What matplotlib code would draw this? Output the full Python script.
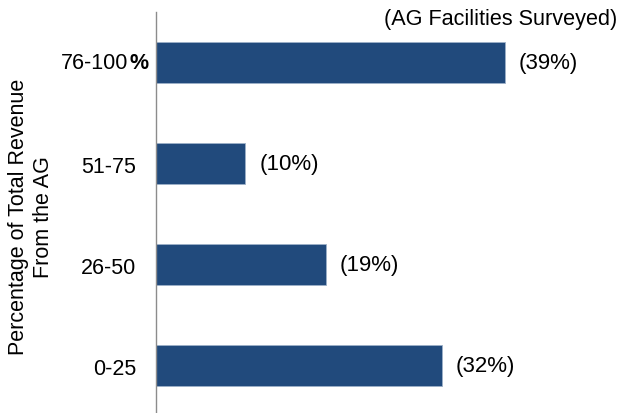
import matplotlib
matplotlib.use("Agg")
import matplotlib.pyplot as plt
from matplotlib.transforms import offset_copy

plt.rcParams['font.family'] = ['Liberation Sans', 'DejaVu Sans']

categories = ["0-25", "26-50", "51-75", "76-100"]
values = [32, 19, 10, 39]
value_labels = ["(32%)", "(19%)", "(10%)", "(39%)"]
title = "(AG Facilities Surveyed)"
ylabel = "Percentage of Total Revenue\nFrom the AG"

W, H = 620, 414
fig = plt.figure(figsize=(W / 100, H / 100), dpi=100)
left, right, top, bottom = 156, 603, 13, 414
ax = fig.add_axes([left / W, 1 - bottom / H, (right - left) / W, (bottom - top) / H])

FS = 15.5
color = "#214A7C"
ax.barh(range(len(categories)), values, height=0.4, color=color,
        edgecolor="#9DB0C8", linewidth=0.6, zorder=2)
ax.set_xlim(0, 50)
ax.set_ylim(-0.47, 3.5)

ax.set_yticks(range(len(categories)))
ax.set_yticklabels(categories[:-1] + [""], fontsize=FS)
ax.tick_params(axis='y', length=0, pad=14.4)
ax.set_xticks([])
for s in ["top", "right", "bottom"]:
    ax.spines[s].set_visible(False)
ax.spines["left"].set_color("#8C8C8C")
ax.spines["left"].set_linewidth(1.0)

# top label: number part plus a bold percent sign
ytr = ax.get_yaxis_transform()
ax.text(0, 3, categories[-1], transform=offset_copy(ytr, fig=fig, x=-28, y=0, units='dots'),
        fontsize=FS, ha='right', va='center')
ax.text(0, 3, "%", transform=offset_copy(ytr, fig=fig, x=-26, y=0, units='dots'),
        fontsize=FS, fontweight='bold', ha='left', va='center')

for i, (v, lab) in enumerate(zip(values, value_labels)):
    ax.annotate(lab, xy=(v, i), xytext=(10, 0), textcoords='offset points',
                ha='left', va='center', fontsize=16)

fig.text(617 / W, 1 - 19 / H, title, ha='right', va='center', fontsize=15.6)
fig.text(31 / W, 1 - 217 / H, ylabel, ha='center', va='center', rotation=90,
         fontsize=FS, multialignment='center', linespacing=1.25)

fig.savefig("out.png", dpi=100)
